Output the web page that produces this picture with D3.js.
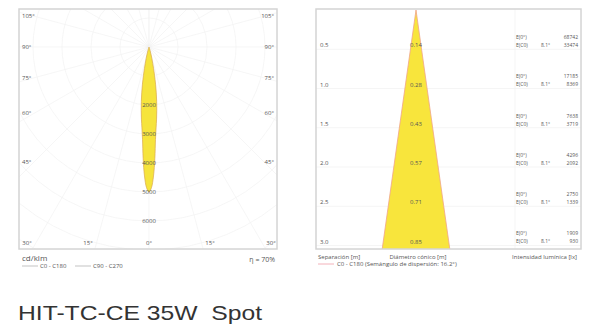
<!DOCTYPE html>
<html lang="es">
  <head>
    <meta charset="UTF-8" />
    <title>HIT-TC-CE 35W Spot</title>
    <script src="https://cdn.jsdelivr.net/npm/d3@7"></script>
    <style>
      body { margin: 0; background: #fff; }
      svg { display: block; }
      text { font-family: "Open Sans", sans-serif; fill: #555; }
    </style>
  </head>
  <body>
    <svg width="600" height="330"></svg>
    <script>
      // polar curve (cd/klm), half angle in degrees from the beam axis
      const polarAngles = [0, 1, 2, 3, 4, 5, 6, 7, 8, 9, 10, 11, 12, 14, 16, 18, 20];
      const polarValues = [5000, 4850, 4450, 3850, 3200, 2800, 2500, 2200, 1900, 1600, 1300, 1000, 750, 400, 180, 60, 0];
      const ringLabels = [2000, 3000, 4000, 5000, 6000];
      const sideAngles = [45, 60, 75, 90, 105];
      const bottomAngles = [30, 15, 0, 15, 30];
      const eta = "η = 70%";

      // cone table
      const distances = [0.5, 1.0, 1.5, 2.0, 2.5, 3.0];
      const diameters = [0.14, 0.28, 0.43, 0.57, 0.71, 0.85];
      const e0 = [68742, 17185, 7638, 4296, 2750, 1909];
      const eC0 = [33474, 8369, 3719, 2092, 1339, 930];
      const halfAngle = 8.1;

      const svg = d3.select("svg");
      const rad = Math.PI / 180;

      // ---------- left: polar diagram ----------
      const L = { x0: 19, y0: 9, x1: 277, y1: 249 };
      const cx = 149, cy = 47;
      const r = d3.scaleLinear().domain([0, 1000]).range([0, 29]);

      svg.append("clipPath").attr("id", "clipL")
        .append("rect").attr("x", L.x0).attr("y", L.y0)
        .attr("width", L.x1 - L.x0).attr("height", L.y1 - L.y0);

      const grid = svg.append("g").attr("clip-path", "url(#clipL)");
      grid.selectAll("circle").data(d3.range(1000, 9000, 1000)).join("circle")
        .attr("cx", cx).attr("cy", cy).attr("r", d => r(d))
        .attr("fill", "none").attr("stroke", "#f2f2f2").attr("stroke-width", 0.7);
      grid.selectAll("line").data(d3.range(-180, 181, 15)).join("line")
        .attr("x1", cx).attr("y1", cy)
        .attr("x2", d => cx + 400 * Math.sin(d * rad))
        .attr("y2", d => cy + 400 * Math.cos(d * rad))
        .attr("stroke", "#f2f2f2").attr("stroke-width", 0.7);

      // lobe
      const pts = [];
      for (let i = polarAngles.length - 1; i > 0; i--) pts.push([-polarAngles[i], polarValues[i]]);
      polarAngles.forEach((a, i) => pts.push([a, polarValues[i]]));
      const lobe = d3.lineRadial()
        .angle(d => Math.PI - d[0] * rad)
        .radius(d => r(d[1]))
        .curve(d3.curveCatmullRomClosed);
      grid.append("path")
        .attr("transform", `translate(${cx},${cy})`)
        .attr("d", lobe(pts))
        .attr("fill", "#f6e43c").attr("stroke", "#d9a84e").attr("stroke-width", 0.7);

      svg.append("g").selectAll("text").data(ringLabels).join("text")
        .attr("x", cx).attr("y", d => cy + r(d)).attr("dy", "0.35em")
        .attr("text-anchor", "middle").attr("font-size", 6).text(d => d);

      svg.append("rect").attr("x", L.x0).attr("y", L.y0)
        .attr("width", L.x1 - L.x0).attr("height", L.y1 - L.y0)
        .attr("fill", "none").attr("stroke", "#d4d4d4").attr("stroke-width", 1.5);

      const sideDx = 115;
      const side = svg.append("g").attr("font-size", 6);
      sideAngles.forEach(a => {
        const y = cy + sideDx / Math.tan(a * rad);
        side.append("text").attr("x", 22).attr("y", y).attr("dy", "0.35em").text(a + "°");
        side.append("text").attr("x", 274).attr("y", y).attr("dy", "0.35em")
          .attr("text-anchor", "end").text(a + "°");
      });
      const bx = d3.scalePoint().domain(d3.range(bottomAngles.length)).range([27, 271]);
      side.selectAll(".b").data(bottomAngles).join("text")
        .attr("x", (d, i) => bx(i)).attr("y", 243).attr("dy", "0.35em")
        .attr("text-anchor", "middle").text(d => d + "°");

      svg.append("text").attr("x", 22).attr("y", 261).attr("font-size", 8).text("cd/klm");
      svg.append("text").attr("x", 275).attr("y", 262).attr("font-size", 7)
        .attr("text-anchor", "end").text(eta);
      const legL = svg.append("g").attr("font-size", 6);
      [["C0 - C180", 22], ["C90 - C270", 75]].forEach(([t, x]) => {
        legL.append("line").attr("x1", x).attr("x2", x + 16).attr("y1", 266).attr("y2", 266)
          .attr("stroke", "#aaa").attr("stroke-width", 0.7);
        legL.append("text").attr("x", x + 18).attr("y", 266).attr("dy", "0.35em").text(t);
      });

      // ---------- right: cone diagram ----------
      const R = { x0: 316, y0: 9, x1: 581, y1: 249 };
      const coneX = 416;
      const y = d3.scaleLinear().domain([0, 3]).range([10, 245.5]);
      const w = d3.scaleLinear().domain([0, 1]).range([0, 78]);

      svg.append("clipPath").attr("id", "clipR")
        .append("rect").attr("x", R.x0).attr("y", R.y0)
        .attr("width", R.x1 - R.x0).attr("height", R.y1 - R.y0);
      const rg = svg.append("g").attr("clip-path", "url(#clipR)");

      rg.selectAll(".h").data(distances).join("line")
        .attr("x1", R.x0).attr("x2", R.x1)
        .attr("y1", d => y(d)).attr("y2", d => y(d))
        .attr("stroke", "#f3f3f3").attr("stroke-width", 0.8);
      rg.append("line").attr("x1", 515).attr("x2", 515).attr("y1", R.y0).attr("y2", R.y1)
        .attr("stroke", "#f3f3f3").attr("stroke-width", 0.8);

      const dMax = y.invert(R.y1 + 2);
      const halfW = dMax * Math.tan(halfAngle * rad);
      rg.append("path")
        .attr("d", d3.line()([
          [coneX, y(0)],
          [coneX + w(halfW), y(dMax)],
          [coneX - w(halfW), y(dMax)]
        ]) + "Z")
        .attr("fill", "#f8e53c").attr("stroke", "#f0a48a").attr("stroke-width", 0.8);

      svg.append("rect").attr("x", R.x0).attr("y", R.y0)
        .attr("width", R.x1 - R.x0).attr("height", R.y1 - R.y0)
        .attr("fill", "none").attr("stroke", "#d4d4d4").attr("stroke-width", 1.5);

      const rows = svg.append("g").attr("font-size", 6);
      distances.forEach((d, i) => {
        const yy = y(d) - 4;
        rows.append("text").attr("x", 320).attr("y", yy).attr("dy", "0.35em").text(d.toFixed(1));
        rows.append("text").attr("x", coneX).attr("y", yy).attr("dy", "0.35em")
          .attr("text-anchor", "middle").attr("fill", "#333").text(diameters[i].toFixed(2));
        rows.append("text").attr("x", 516).attr("y", yy - 8).attr("dy", "0.35em").attr("font-size", 5).text("E(0°)");
        rows.append("text").attr("x", 516).attr("y", yy).attr("dy", "0.35em").attr("font-size", 5).text("E(C0)");
        rows.append("text").attr("x", 541).attr("y", yy).attr("dy", "0.35em").attr("font-size", 5).text(halfAngle + "°");
        rows.append("text").attr("x", 578).attr("y", yy - 8).attr("dy", "0.35em").attr("font-size", 5)
          .attr("text-anchor", "end").text(e0[i]);
        rows.append("text").attr("x", 578).attr("y", yy).attr("dy", "0.35em").attr("font-size", 5)
          .attr("text-anchor", "end").text(eC0[i]);
      });

      const foot = svg.append("g").attr("font-size", 6);
      foot.append("text").attr("x", 318).attr("y", 257).attr("dy", "0.35em").text("Separación [m]");
      foot.append("text").attr("x", 418).attr("y", 257).attr("dy", "0.35em")
        .attr("text-anchor", "middle").text("Diámetro cónico [m]");
      foot.append("text").attr("x", 577).attr("y", 257).attr("dy", "0.35em")
        .attr("text-anchor", "end").text("Intensidad lumínica [lx]");
      foot.append("line").attr("x1", 318).attr("x2", 334).attr("y1", 264).attr("y2", 264)
        .attr("stroke", "#f0a0a8").attr("stroke-width", 0.8);
      foot.append("text").attr("x", 337).attr("y", 264).attr("dy", "0.35em")
        .text("C0 - C180 (Semángulo de dispersión: " + (2 * halfAngle).toFixed(1) + "°)");

      // title
      svg.append("text").attr("x", 18).attr("y", 320)
        .attr("font-size", 21)
        .attr("textLength", 244).attr("lengthAdjust", "spacingAndGlyphs")
        .style("fill", "#333").style("font-family", "'Liberation Sans', Arial, sans-serif")
        .text("HIT-TC-CE 35W\u00a0\u00a0Spot");
    </script>
  </body>
</html>
